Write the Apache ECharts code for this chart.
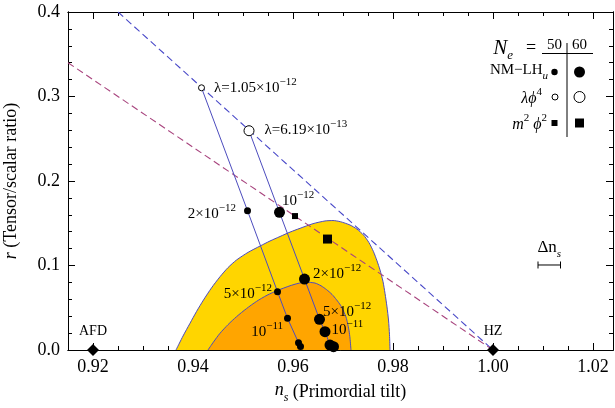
<!DOCTYPE html>
<html><head><meta charset="utf-8">
<script src="https://cdn.jsdelivr.net/npm/echarts@6/dist/echarts.min.js"></script>
<style>html,body{margin:0;padding:0;background:#fff}#c{width:615px;height:408px}</style>
</head><body><div id="c"></div>
<script>
// ---- data ----
const xTickLabels = [0.92, 0.94, 0.96, 0.98, 1.00, 1.02];
const yTickLabels = [0.0, 0.1, 0.2, 0.3, 0.4];
// 95% (yellow) and 68% (orange) contours, [n_s, r]
const outerContour = [[0.9366,0],[0.9380,0.0165],[0.9394,0.0316],[0.9407,0.0455],[0.9421,0.0592],[0.9437,0.0735],[0.9454,0.0867],[0.9470,0.0975],[0.9487,0.1065],[0.9510,0.1155],[0.9534,0.1230],[0.9554,0.1290],[0.9574,0.1343],[0.9594,0.1395],[0.9614,0.1440],[0.9640,0.1495],[0.9664,0.1527],[0.9680,0.1532],[0.9695,0.1518],[0.9714,0.1479],[0.9728,0.1430],[0.9741,0.1361],[0.9752,0.1270],[0.9761,0.1163],[0.9768,0.1055],[0.9774,0.0947],[0.9780,0.0810],[0.9784,0.0671],[0.9788,0.0510],[0.9791,0.0355],[0.9793,0.0180],[0.9794,0]];
const innerContour = [[0.9430,0],[0.9441,0.0095],[0.9454,0.0198],[0.9470,0.0300],[0.9487,0.0394],[0.9507,0.0490],[0.9527,0.0575],[0.9548,0.0648],[0.9569,0.0705],[0.9594,0.0760],[0.9610,0.0788],[0.9625,0.0803],[0.9644,0.0792],[0.9656,0.0760],[0.9667,0.0715],[0.9678,0.0658],[0.9687,0.0595],[0.9695,0.0530],[0.9701,0.0460],[0.9706,0.0390],[0.9709,0.0320],[0.9712,0.0230],[0.9714,0.0140],[0.9716,0]];
// consistency-relation dashed lines
const dashBlue = [[0.925,0.4],[1.00,0]];
const dashPurple = [[0.915,0.34],[1.00,0]];
// lambda phi^4 points (N=50, N=60)
const lambdaPhi4 = [[0.9417,0.3103],[0.9512,0.2595]];
const lambdaLabels = ['λ=1.05×10^−12','λ=6.19×10^−13'];
// NM-LH_u points
const nm50 = [[0.9509,0.1648],[0.9569,0.0690],[0.9589,0.0375],[0.9611,0.0087],[0.9615,0.0040]];
const nm50Labels = ['2×10^−12','5×10^−12','10^−11','',''];
const nm60 = [[0.9573,0.1629],[0.9623,0.0840],[0.9653,0.0363],[0.9664,0.0217],[0.9674,0.0059],[0.9681,0.0039]];
const nm60Labels = ['10^−12','2×10^−12','5×10^−12','10^−11','',''];
// m^2 phi^2 points
const m2phi2 = [[0.9604,0.1585],[0.9669,0.1313]];
// special points
const special = [[0.92,0],[1.00,0]];
const specialLabels = ['AFD','HZ'];
// Delta n_s error bar [from, to, r]
const deltaNs = [[1.0090,1.0135,0.1006]];

// ---- styling ----
const SERIF = '"Liberation Serif","DejaVu Serif",serif';
const LINE_BLUE = '#4c4cbe';
function supText(t){
  const i = t.indexOf('^');
  if (i < 0) return '{b|' + t + '}';
  return '{b|' + t.slice(0,i) + '}{s|' + t.slice(i+1) + '}';
}
const richSup = {
  b:{fontFamily:SERIF,fontSize:15,lineHeight:19,verticalAlign:'bottom',color:'#000'},
  s:{fontFamily:SERIF,fontSize:11,lineHeight:11,verticalAlign:'top',color:'#000'}
};
function lbl(pos, dist, off){
  return {show:true, position:pos, distance:dist, offset:off, rich:richSup, color:'#000', opacity:1,
    formatter:p=>p.data.txt ? supText(p.data.txt) : ''};
}
const nm50Pos = [['left',8,[0,1]],['left',2,[0,0]],['left',1,[0,12]],['left',0,[0,0]],['left',0,[0,0]]];
const nm60Pos = [['right',0,[-3,-13]],['right',3,[0,-7]],['right',-2,[0,-9]],['right',1,[0,-4]],['right',0,[0,0]],['right',0,[0,0]]];
const lamPos = [['right',9,[0,-2]],['right',10,[0,-3]]];

const majorX = xTickLabels;
function xAx(pos, major, labels){
  const a = {type:'value', position:pos, min:0.915, max:1.024, splitLine:{show:false},
    axisLine:{show:true,onZero:false,lineStyle:{color:'#000',width:1}},
    axisTick:{inside:true,length:major?7:4,lineStyle:{color:'#000'}},
    axisLabel:{show:false}};
  if (major){ a.axisTick.customValues = majorX; }
  else { a.interval = 0.005; }
  if (labels){ a.axisLabel = {show:true, customValues:majorX, formatter:v=>v.toFixed(2), fontFamily:SERIF, fontSize:18, color:'#000', margin:8};
    a.name = '{i|n}{sub|s} (Primordial tilt)'; a.nameLocation='middle'; a.nameGap=29;
    a.nameTextStyle = {fontFamily:SERIF,fontSize:18,color:'#000',verticalAlign:'top',lineHeight:20,
      rich:{i:{fontFamily:SERIF,fontStyle:'italic',fontSize:18,lineHeight:20,verticalAlign:'top'},sub:{fontFamily:SERIF,fontStyle:'italic',fontSize:12,lineHeight:23,verticalAlign:'bottom'}}};
  }
  return a;
}
function yAx(pos, major, labels){
  const a = {type:'value', position:pos, min:0, max:0.4, splitLine:{show:false},
    axisLine:{show:true,onZero:false,lineStyle:{color:'#000',width:1}},
    axisTick:{inside:true,length:major?7:4,lineStyle:{color:'#000'}},
    axisLabel:{show:false}};
  a.interval = major ? 0.1 : 0.02;
  if (labels){ a.axisLabel = {show:true, formatter:v=>v.toFixed(1), fontFamily:SERIF, fontSize:18, color:'#000', margin:8};
    a.name = '{i|r} (Tensor/scalar ratio)'; a.nameLocation='middle'; a.nameGap=48;
    a.nameTextStyle = {fontFamily:SERIF,fontSize:18,color:'#000',rich:{i:{fontFamily:SERIF,fontStyle:'italic',fontSize:18}}};
  }
  return a;
}

const chart = echarts.init(document.getElementById('c'), null, {renderer:'canvas'});
const option = {
  animation:false,
  backgroundColor:'#fff',
  grid:{left:68,right:2,top:12,bottom:58,containLabel:false,outerBoundsMode:'none'},
  xAxis:[xAx('bottom',true,true), xAx('bottom',false,false), xAx('top',true,false), xAx('top',false,false)],
  yAxis:[yAx('left',true,true), yAx('left',false,false), yAx('right',true,false), yAx('right',false,false)],
  series:[
    {type:'line', data:outerContour, smooth:0.25, symbol:'none', z:1,
      lineStyle:{color:LINE_BLUE,width:1}, areaStyle:{color:'#ffd500',opacity:1,origin:'start'}},
    {type:'line', data:innerContour, smooth:0.25, symbol:'none', z:2,
      lineStyle:{color:LINE_BLUE,width:1}, areaStyle:{color:'#ffa500',opacity:1,origin:'start'}},
    {type:'line', data:dashBlue, symbol:'none', z:3, lineStyle:{color:'#4848c8',width:1.1,type:[7,4]}},
    {type:'line', data:dashPurple, symbol:'none', z:3, lineStyle:{color:'#a8447e',width:1.1,type:[7,4]}},
    {type:'line', data:[lambdaPhi4[0]].concat(nm50), symbol:'none', z:4, lineStyle:{color:LINE_BLUE,width:1}},
    {type:'line', data:[lambdaPhi4[1]].concat(nm60), symbol:'none', z:4, lineStyle:{color:LINE_BLUE,width:1}},
    {type:'scatter', z:6, clip:false, symbol:'circle', symbolSize:7, itemStyle:{color:'#000',opacity:1},
      data:nm50.map((d,i)=>({value:d, txt:nm50Labels[i], label:lbl(nm50Pos[i][0],nm50Pos[i][1],nm50Pos[i][2])}))},
    {type:'scatter', z:6, clip:false, symbol:'circle', symbolSize:11, itemStyle:{color:'#000',opacity:1},
      data:nm60.map((d,i)=>({value:d, txt:nm60Labels[i], label:lbl(nm60Pos[i][0],nm60Pos[i][1],nm60Pos[i][2])}))},
    {type:'scatter', z:6, clip:false, symbol:'circle', itemStyle:{color:'#fff',borderColor:'#000',borderWidth:1,opacity:1},
      data:lambdaPhi4.map((d,i)=>({value:d, txt:lambdaLabels[i], symbolSize:i?10:6, label:lbl(lamPos[i][0],lamPos[i][1],lamPos[i][2])}))},
    {type:'scatter', z:6, clip:false, symbol:'rect', itemStyle:{color:'#000',opacity:1},
      data:m2phi2.map((d,i)=>({value:d, symbolSize:i?9:6}))},
    {type:'scatter', z:7, clip:false, symbol:'diamond', symbolSize:12, itemStyle:{color:'#000',opacity:1},
      data:special.map((d,i)=>({value:d, txt:specialLabels[i]})),
      label:{show:true, position:'top', distance:6, formatter:p=>p.data.txt, fontFamily:SERIF, fontSize:14, color:'#000'}},
    {type:'custom', z:6, clip:false, data:deltaNs,
      renderItem:(params, api)=>{
        const a = api.coord([api.value(0), api.value(2)]);
        const b = api.coord([api.value(1), api.value(2)]);
        const st = {stroke:'#000', lineWidth:1};
        return {type:'group', children:[
          {type:'line', shape:{x1:a[0],y1:a[1],x2:b[0],y2:b[1]}, style:st},
          {type:'line', shape:{x1:a[0],y1:a[1]-3.5,x2:a[0],y2:a[1]+3.5}, style:st},
          {type:'line', shape:{x1:b[0],y1:b[1]-3.5,x2:b[0],y2:b[1]+3.5}, style:st},
          {type:'text', x:(a[0]+b[0])/2, y:a[1]-5, style:{text:'{d|Δn}{s|s}', align:'center', verticalAlign:'bottom',
            rich:{d:{fontFamily:SERIF,fontSize:17,lineHeight:18,verticalAlign:'top',fill:'#000'},s:{fontFamily:SERIF,fontStyle:'italic',fontSize:11,lineHeight:21,verticalAlign:'bottom',fill:'#000'}}}}
        ]};
      }}
  ],
  graphic:[
    {type:'text', x:513, y:50, style:{text:'{n|N}{e|e}', align:'right', verticalAlign:'middle',
      rich:{n:{fontFamily:SERIF,fontStyle:'italic',fontSize:21,lineHeight:22,verticalAlign:'top',fill:'#000'},
            e:{fontFamily:SERIF,fontStyle:'italic',fontSize:13,lineHeight:25,verticalAlign:'bottom',fill:'#000'}}}},
    {type:'text', x:531, y:48, style:{text:'=', align:'center', verticalAlign:'middle', font:'18px '+SERIF, fill:'#000'}},
    {type:'text', x:554.5, y:45, style:{text:'50', align:'center', verticalAlign:'middle', font:'15px '+SERIF, fill:'#000'}},
    {type:'text', x:579.5, y:45, style:{text:'60', align:'center', verticalAlign:'middle', font:'15px '+SERIF, fill:'#000'}},
    {type:'line', shape:{x1:542,y1:53.5,x2:593,y2:53.5}, style:{stroke:'#000',lineWidth:1}},
    {type:'line', shape:{x1:567,y1:43,x2:567,y2:137}, style:{stroke:'#000',lineWidth:1}},
    {type:'text', x:548, y:72, style:{text:'{t|NM−LH}{u|u}', align:'right', verticalAlign:'middle',
      rich:{t:{fontFamily:SERIF,fontSize:15,lineHeight:17,verticalAlign:'top',fill:'#000'},u:{fontFamily:SERIF,fontStyle:'italic',fontSize:11,lineHeight:19,verticalAlign:'bottom',fill:'#000'}}}},
    {type:'circle', shape:{cx:554.5,cy:72,r:3.2}, style:{fill:'#000'}},
    {type:'circle', shape:{cx:579.5,cy:72,r:5.5}, style:{fill:'#000'}},
    {type:'text', x:542, y:97, style:{text:'{t|λϕ}{s|4}', align:'right', verticalAlign:'middle',
      rich:{t:{fontFamily:SERIF,fontStyle:'italic',fontSize:16,lineHeight:20,verticalAlign:'bottom',fill:'#000'},s:{fontFamily:SERIF,fontSize:11,lineHeight:11,verticalAlign:'top',fill:'#000'}}}},
    {type:'circle', shape:{cx:555,cy:97,r:3}, style:{fill:'#fff',stroke:'#000',lineWidth:1}},
    {type:'circle', shape:{cx:579.5,cy:97,r:5.5}, style:{fill:'#fff',stroke:'#000',lineWidth:1}},
    {type:'text', x:547, y:123, style:{text:'{t|m}{s|2}{t| ϕ}{s|2}', align:'right', verticalAlign:'middle',
      rich:{t:{fontFamily:SERIF,fontStyle:'italic',fontSize:16,lineHeight:20,verticalAlign:'bottom',fill:'#000'},s:{fontFamily:SERIF,fontSize:11,lineHeight:11,verticalAlign:'top',fill:'#000'}}}},
    {type:'rect', shape:{x:551.5,y:120,width:6,height:6}, style:{fill:'#000'}},
    {type:'rect', shape:{x:575,y:118.5,width:9,height:9}, style:{fill:'#000'}}
  ]
};
chart.setOption(option);
</script></body></html>
